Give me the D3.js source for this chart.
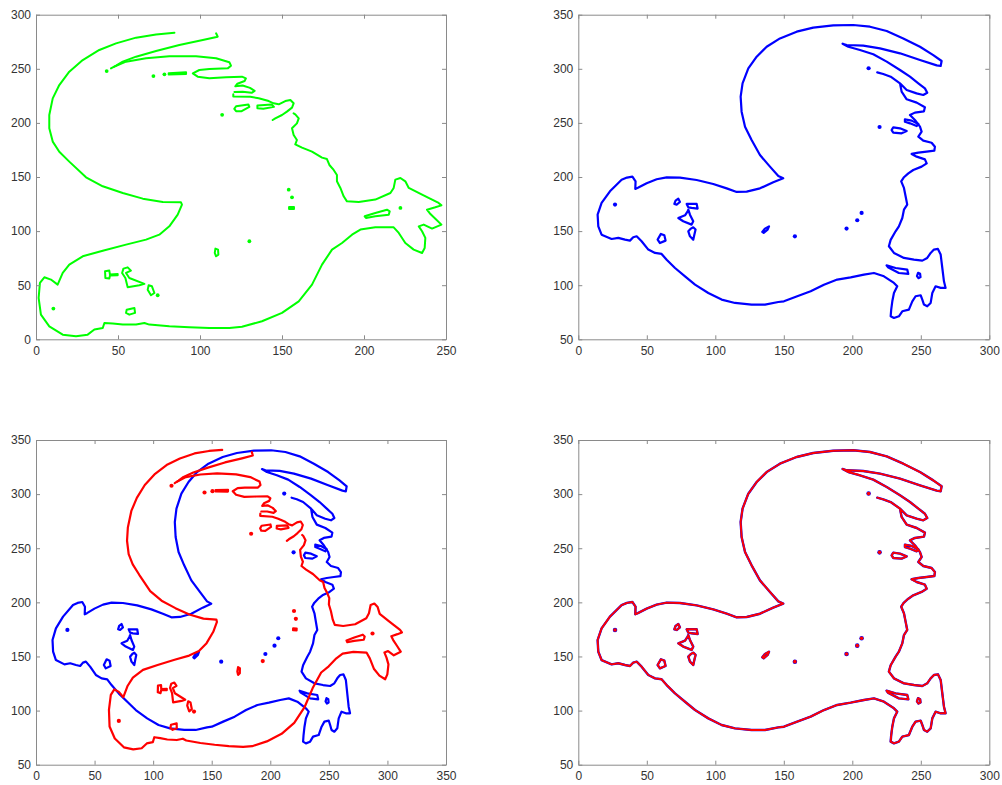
<!DOCTYPE html>
<html>
<head>
<meta charset="utf-8">
<script src="https://cdn.jsdelivr.net/npm/d3@7"></script>
<style>
  body { margin: 0; background: #fff; }
  svg text { font-family: "Liberation Sans", Arial, Helvetica, sans-serif; font-size: 12px; fill: #333; }
</style>
</head>
<body>
<svg id="fig" width="1002" height="785"></svg>
<script>
// ---------- Source point set (green, panel 1) ----------
const greenMain = [[157.1,208.8],[158.1,207.9],[160.2,204.2],[159.1,199.6],[156.1,195.0],[157.1,188.8],[159.1,184.2],[158.1,180.2],[162.2,177.1],[168.3,173.4],[174.4,167.9],[177.4,166.6],[178.9,161.1],[181.5,156.5],[183.5,151.9],[183.5,146.0],[185.6,139.9],[187.6,132.2],[189.6,127.5],[196.8,126.9],[206.9,129.1],[216.1,135.2],[218.1,139.9],[219.1,147.6],[222.2,149.1],[225.2,146.0],[227.3,139.9],[235.4,133.7],[245.5,126.0],[247.2,123.8],[243.5,122.0],[238.4,119.8],[240.5,115.8],[243.5,111.5],[247.2,106.0],[241.5,102.3],[236.4,106.0],[233.4,104.4],[235.4,99.8],[237.4,93.7],[237.0,84.4],[235.4,79.8],[230.3,82.9],[225.2,89.0],[221.2,98.3],[218.1,103.5],[206.9,103.5],[197.8,101.4],[192.7,96.7],[186.6,89.0],[180.5,82.9],[174.4,69.0],[168.3,50.5],[160.2,35.1],[150.0,24.4],[137.8,16.7],[125.6,11.6],[117.9,10.5],[105.7,10.5],[93.5,11.1],[81.3,12.0],[69.1,13.6],[66.1,15.1],[61.0,13.6],[52.9,13.6],[46.8,14.5],[41.7,15.1],[40.7,10.5],[35.6,9.0],[31.5,4.3],[24.4,2.8],[16.3,4.3],[8.1,12.0],[3.0,22.8],[1.6,38.2],[2.4,52.1],[5.1,57.3],[9.1,55.2],[13.2,50.5],[16.3,61.3],[20.3,69.0],[28.5,76.7],[40.7,81.9],[54.9,87.5],[67.1,92.1],[75.2,96.7],[81.3,104.4],[86.4,115.2],[89.0,124.5],[88.4,126.6],[77.3,126.9],[65.1,130.0],[52.9,135.2],[40.7,141.4],[30.5,149.7],[20.3,164.2],[14.2,173.4],[10.2,182.7],[8.1,195.0],[8.1,207.3],[10.2,222.7],[14.2,235.0],[20.3,247.3],[28.5,258.1],[38.6,267.4],[48.8,273.5],[61.0,278.8],[73.2,281.8],[84.4,283.4]];

const greenStrokes = [
  // tail tip return
  [[109.8,282.8],[110.8,279.7],[101.7,276.6],[87.4,272.0],[73.2,266.4],[61.0,261.2],[52.9,256.6],[48.8,252.9],[45.7,250.4]],
  // long feather and its ragged edge
  [[47.8,252.0],[54.9,256.6],[67.1,259.7],[81.3,261.5],[97.6,261.5],[109.8,259.7],[117.9,256.0],[118.9,252.9],[116.9,250.4],[105.7,249.8],[99.6,248.9],[95.6,245.8],[98.6,242.7],[105.7,241.2],[115.9,242.1],[125.6,242.7],[128.0,241.2],[127.2,238.7],[122.8,236.2],[121.5,233.8],[126.0,234.5],[130.5,232.4],[133.3,229.6],[131.5,227.8],[126.0,228.8],[121.0,228.5]],
  [[120.3,226.5],[120.3,224.5],[130.7,224.2],[135.8,222.7],[141.9,220.2],[144.9,218.1],[148.0,217.2],[152.0,220.2],[155.1,221.2],[157.1,218.1],[156.1,214.1],[153.0,210.4],[150.0,207.3],[145.9,204.2],[144.3,202.7]]
];

const greenLoops = [
  [[80.9,246.0],[91.5,246.8],[91.5,245.3],[80.9,244.8]],
  [[122.0,215.4],[129.5,217.0],[130.1,214.8],[125.4,210.8],[122.0,210.8],[120.9,213.0]],
  [[135.0,216.0],[143.7,217.0],[145.1,214.8],[138.6,213.0],[135.0,213.6]],
  [[154.3,122.3],[157.3,122.3],[157.3,120.5],[154.3,120.5]],
  [[200.4,113.7],[206.9,116.8],[214.0,119.8],[215.7,118.3],[215.1,115.2],[206.9,113.7],[201.2,112.1]],
  [[109.4,83.8],[111.0,82.9],[111.2,78.3],[109.8,76.7],[109.0,79.8]],
  [[42.1,62.9],[44.7,63.5],[45.1,59.8],[49.8,60.4],[49.8,59.2],[45.1,58.9],[44.7,56.1],[42.3,56.7]],
  [[53.3,65.3],[55.9,66.5],[57.9,63.5],[54.9,61.3],[56.9,56.7],[66.1,51.2],[63.0,49.9],[55.9,48.1],[54.5,56.7],[52.5,61.3]],
  [[68.7,49.9],[70.7,49.0],[72.2,42.8],[70.1,40.7],[68.1,45.9]],
  [[55.3,27.4],[60.0,29.0],[60.4,24.4],[56.9,22.8],[54.9,24.4]]
];

const greenDots = [[10.6,28.4],[74.2,40.7],[154.1,138.3],[156.1,131.2],[130.1,90.6],[113.5,207.5],[43.1,247.9],[71.6,243.3],[78.3,244.9],[222.2,121.4]];

// rigid move of the source set shown in panel 3 (degrees, offset)
const sourceTurnDeg = 3.27;
const sourceShift = [58.5, 62.7];

// ---------- Target point set (blue) ----------
const blueMain = [[218.2,296.7],[222.6,295.2],[228.0,292.7],[234.8,286.6],[239.7,280.4],[246.9,277.3],[251.8,275.8],[254.7,277.9],[253.0,281.9],[248.2,286.6],[242.1,292.7],[234.8,298.9],[225.1,306.6],[215.3,313.4],[205.6,317.4],[197.1,320.4],[192.9,323.2],[195.9,322.0],[208.0,321.4],[220.2,318.9],[234.8,314.3],[249.4,308.1],[261.6,303.2],[264.5,302.6],[265.2,307.2],[259.1,312.7],[249.4,320.4],[237.2,328.1],[225.1,334.9],[212.9,338.9],[200.7,340.5],[186.1,340.1],[171.5,338.0],[159.4,334.3],[147.2,328.1],[137.5,320.4],[130.2,311.2],[124.1,300.4],[119.9,286.6],[118.5,274.2],[119.2,260.4],[121.7,246.5],[126.5,234.2],[132.6,220.3],[139.9,209.6],[146.0,200.9],[149.6,198.8],[142.3,195.1],[132.6,189.5],[122.9,186.5],[115.6,186.2],[108.3,189.5],[98.5,193.5],[86.4,197.2],[74.2,199.4],[64.5,199.7],[57.2,197.9],[49.9,194.2],[43.5,190.0],[41.6,189.0],[41.8,196.0],[39.5,200.3],[35.5,199.5],[31.6,197.5],[23.1,186.8],[17.0,176.0],[14.1,165.2],[14.6,154.4],[17.0,146.7],[24.3,142.7],[29.2,143.7],[34.1,142.1],[37.7,141.2],[40.1,144.3],[42.6,145.2],[46.2,140.6],[51.1,132.9],[56.0,129.8],[60.8,128.9],[64.5,123.6],[70.6,115.9],[77.9,108.2],[85.2,100.5],[94.9,92.8],[104.6,86.7],[114.4,83.6],[126.5,82.1],[136.3,82.1],[146.0,84.5],[150.1,85.1],[159.8,89.8],[169.6,94.4],[179.3,100.5],[189.0,105.2],[198.8,107.3],[208.5,109.8],[215.8,111.3],[223.1,108.2],[230.4,102.1],[232.8,99.0],[230.4,92.8],[229.2,85.1],[228.4,77.4],[228.0,71.3],[230.4,69.7],[234.0,71.3],[236.5,75.9],[241.3,77.4],[243.8,85.1],[246.2,89.8],[249.9,90.7],[251.1,86.7],[252.3,82.1],[254.7,80.5],[257.2,83.6],[258.4,92.8],[260.8,99.0],[264.5,97.5],[268.1,97.5],[266.9,103.6],[265.7,115.9],[264.5,128.3],[262.5,133.5],[259.6,132.9],[257.2,129.8],[254.7,125.2],[251.1,122.7],[245.0,123.6],[237.7,125.2],[230.4,129.8],[226.7,136.0],[228.0,141.9],[231.6,149.8],[234.0,154.4],[236.5,162.1],[237.7,169.8],[240.1,174.5],[238.9,182.2],[237.7,189.9],[235.7,196.0],[237.5,199.5],[240.9,203.4],[244.5,206.5],[250.6,209.6],[254.3,212.6],[253.0,216.3],[247.0,218.8],[243.3,221.3],[248.2,222.5],[254.3,223.4],[259.9,224.3],[260.3,228.0],[257.9,231.7],[251.8,233.6],[248.2,237.3],[250.6,241.9],[249.4,246.5],[245.7,252.7],[242.1,257.3],[245.7,259.5],[252.3,260.7],[253.0,264.4],[247.0,268.7],[239.7,271.8],[236.0,278.9],[234.8,286.6]];

const blueLoops = [
  [[238.4,253.3],[243.3,252.1],[248.2,249.0],[247.0,247.1],[242.1,249.6],[238.4,251.1]],
  [[229.9,245.9],[234.8,245.0],[239.7,242.5],[236.0,240.4],[229.9,241.0],[228.7,243.4]],
  [[225.0,118.4],[231.6,115.9],[240.1,114.4],[240.9,110.4],[234.0,111.3],[226.0,116.6]],
  [[248.0,111.5],[249.5,110.5],[249.8,107.5],[248.3,106.5],[247.2,108.5]],
  [[71.0,178.2],[73.0,180.0],[74.2,176.9],[71.8,174.5],[70.1,175.1]],
  [[79.1,175.1],[86.4,175.1],[87.1,170.8],[82.7,171.4],[80.3,172.0]],
  [[80.3,169.8],[81.5,165.2],[83.9,159.1],[82.7,156.0],[76.6,159.1],[73.0,162.1],[77.9,164.6],[79.8,168.3]],
  [[83.9,153.5],[85.6,151.4],[84.7,146.7],[83.9,142.1],[81.5,145.2],[80.3,149.8],[82.2,152.3]],
  [[60.3,147.4],[62.8,146.1],[63.7,141.2],[59.6,139.0],[57.9,142.1]],
  [[134.3,149.2],[136.2,152.3],[139.2,154.4],[138.2,151.4],[135.3,148.3]]
];

const blueDots = [[26.8,174.5],[158.1,145.2],[195.8,152.3],[203.6,160.0],[206.8,166.8],[211.9,300.5],[219.9,246.2]];

// ---------- Axes settings ----------
const panels = [
  {x0: 36,    x1: 446,   y0: 14.7, y1: 339.3, xDom: [0, 250], yDom: [0, 300],  xTicks: d3.range(0, 251, 50), yTicks: d3.range(0, 301, 50)},
  {x0: 578.3, x1: 989.3, y0: 14.7, y1: 339.3, xDom: [0, 300], yDom: [50, 350], xTicks: d3.range(0, 301, 50), yTicks: d3.range(50, 351, 50)},
  {x0: 36,    x1: 446,   y0: 440,  y1: 764.7, xDom: [0, 350], yDom: [50, 350], xTicks: d3.range(0, 351, 50), yTicks: d3.range(50, 351, 50)},
  {x0: 578.3, x1: 989.3, y0: 440,  y1: 764.7, xDom: [0, 300], yDom: [50, 350], xTicks: d3.range(0, 301, 50), yTicks: d3.range(50, 351, 50)}
];

const COL = {green: "#00ff00", blue: "#0000ff", red: "#ff0000", axis: "#8a8a8a"};

const svg = d3.select("#fig");

function movedSource(pts) {
  const a = sourceTurnDeg * Math.PI / 180, c = Math.cos(a), s = Math.sin(a);
  return pts.map(([x, y]) => [x * c + y * s + sourceShift[0], -x * s + y * c + sourceShift[1]]);
}

function makePanel(p) {
  const x = d3.scaleLinear().domain(p.xDom).range([p.x0, p.x1]);
  const y = d3.scaleLinear().domain(p.yDom).range([p.y1, p.y0]);
  const g = svg.append("g");
  const plot = g.append("g");
  const axes = g.append("g");
  const styleAxis = sel => {
    sel.selectAll(".domain").attr("stroke", COL.axis);
    sel.selectAll(".tick line").attr("stroke", COL.axis);
    sel.selectAll("text").attr("fill", "#333").style("font-size", "12px");
  };
  axes.append("g").attr("transform", `translate(0,${p.y1})`)
    .call(d3.axisBottom(x).tickValues(p.xTicks).tickSize(-4).tickSizeOuter(0).tickPadding(7)).call(styleAxis);
  axes.append("g").attr("transform", `translate(0,${p.y0})`)
    .call(d3.axisTop(x).tickValues(p.xTicks).tickSize(-4).tickSizeOuter(0).tickFormat(""));
  axes.append("g").attr("transform", `translate(${p.x0},0)`)
    .call(d3.axisLeft(y).tickValues(p.yTicks).tickSize(-4).tickSizeOuter(0).tickPadding(5)).call(styleAxis);
  axes.append("g").attr("transform", `translate(${p.x1},0)`)
    .call(d3.axisRight(y).tickValues(p.yTicks).tickSize(-4).tickSizeOuter(0).tickFormat(""));
  axes.selectAll(".domain").attr("stroke", COL.axis);
  axes.selectAll(".tick line").attr("stroke", COL.axis);
  axes.selectAll("text").attr("font-family", null);
  return {x, y, plot};
}

function drawSet(P, set, color, width) {
  const line = d3.line().x(d => P.x(d[0])).y(d => P.y(d[1]));
  const loop = d3.line().x(d => P.x(d[0])).y(d => P.y(d[1])).curve(d3.curveLinearClosed);
  const g = P.plot.append("g")
    .attr("fill", "none").attr("stroke", color).attr("stroke-width", width)
    .attr("stroke-linejoin", "round").attr("stroke-linecap", "round");
  g.selectAll("path.open").data(set.open).join("path").attr("class", "open").attr("d", line);
  g.selectAll("path.loop").data(set.loops).join("path").attr("class", "loop").attr("d", loop);
  P.plot.append("g").selectAll("circle").data(set.dots).join("circle")
    .attr("cx", d => P.x(d[0])).attr("cy", d => P.y(d[1])).attr("r", width * 0.95).attr("fill", color);
}

const sourceSet = {open: [greenMain, ...greenStrokes], loops: greenLoops, dots: greenDots};
const targetSet = {open: [blueMain], loops: blueLoops, dots: blueDots};
const movedSet = {
  open: sourceSet.open.map(movedSource),
  loops: sourceSet.loops.map(movedSource),
  dots: movedSource(sourceSet.dots)
};

const P1 = makePanel(panels[0]);
drawSet(P1, sourceSet, COL.green, 2);

const P2 = makePanel(panels[1]);
drawSet(P2, targetSet, COL.blue, 2.2);

const P3 = makePanel(panels[2]);
drawSet(P3, targetSet, COL.blue, 2.2);
drawSet(P3, movedSet, COL.red, 2.2);

const P4 = makePanel(panels[3]);
drawSet(P4, targetSet, COL.blue, 2.4);
drawSet(P4, targetSet, COL.red, 1.9);
</script>
</body>
</html>
